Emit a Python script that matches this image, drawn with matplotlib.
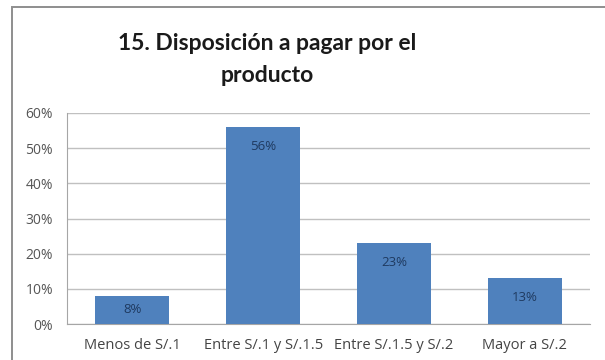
import matplotlib.pyplot as plt
from matplotlib.patches import Rectangle
from matplotlib.ticker import PercentFormatter

# Encuesta - pregunta 15
categorias = ['Menos de S/.1', 'Entre S/.1 y S/.1.5', 'Entre S/.1.5 y S/.2', 'Mayor a S/.2']
porcentajes = [0.08, 0.56, 0.23, 0.13]
etiquetas = ['8%', '56%', '23%', '13%']
ticks_y = [0, 0.1, 0.2, 0.3, 0.4, 0.5, 0.6]

plt.rcParams['font.family'] = ['Open Sans', 'DejaVu Sans']

fig = plt.figure(figsize=(6.05, 3.6), dpi=100)
fig.patch.set_facecolor('white')

# marco del grafico (se sale por la derecha y por abajo)
marco = Rectangle((12 / 605, -0.05), 1.0, 1 - 7 / 360 + 0.05, transform=fig.transFigure,
                  facecolor='white', edgecolor='#8e8e8e', linewidth=1.4, clip_on=False,
                  zorder=-5)
fig.patches.append(marco)

ax = fig.add_axes([67 / 605, 1 - 324 / 360, (590 - 67) / 605, (324 - 113) / 360])
ax.set_zorder(2)
ax.set_facecolor('white')

x = range(len(categorias))
ax.bar(x, porcentajes, width=0.566, color='#4f81bd', zorder=3)

for i, v in enumerate(porcentajes):
    y = v - 0.054
    if y < v / 2:
        y = v / 2
    ax.text(i, y, etiquetas[i], ha='center', va='center', fontsize=9.5,
            color='#1f3a60', zorder=4)

ax.set_ylim(0, 0.6)
ax.set_xlim(-0.5, len(categorias) - 0.5)
ax.set_yticks(ticks_y)
ax.yaxis.set_major_formatter(PercentFormatter(1.0, decimals=0))
ax.yaxis.grid(True, color='#c0c0c0', linewidth=1.0, zorder=0)
ax.set_xticks(list(x))
ax.set_xticklabels(categorias)

for lado in ['top', 'right']:
    ax.spines[lado].set_visible(False)
ax.spines['left'].set_color('#a6a6a6')
ax.spines['bottom'].set_color('#a6a6a6')
ax.tick_params(axis='y', length=0, pad=10, labelsize=10, labelcolor='#555555')
ax.tick_params(axis='x', length=0, pad=10, labelsize=10.5, labelcolor='#444444')

fig.text(267 / 605, 1 - 43 / 360, '15. Disposición a pagar por el', ha='center', va='center',
         fontsize=16.5, fontweight='bold', color='#1a1a1a', family='Lato')
fig.text(267 / 605, 1 - 75 / 360, 'producto', ha='center', va='center',
         fontsize=16.5, fontweight='bold', color='#1a1a1a', family='Lato')

fig.savefig('out.png', dpi=100, facecolor=fig.get_facecolor())
